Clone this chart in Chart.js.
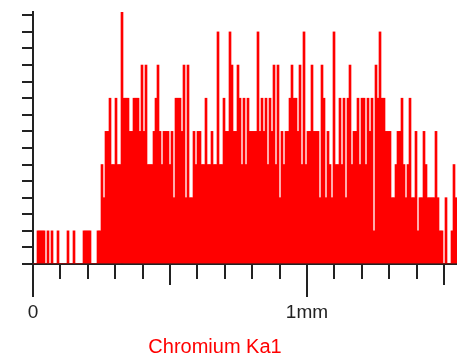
<!DOCTYPE html>
<html>
<head>
<meta charset="utf-8">
<script src="https://cdn.jsdelivr.net/npm/chart.js@4.4.1/dist/chart.umd.min.js"></script>
<style>
  body { margin: 0; background: #ffffff; }
  canvas { display: block; }
</style>
</head>
<body>
<canvas id="scan" width="457" height="356"></canvas>
<script>
// Chromium Ka1 line scan: counts per step along the scan line
const binWidth = 0.0073; // mm per step

const counts = [
    0, 0, 1, 1, 1, 1, 0, 1, 0, 1,
    0, 0, 1, 0, 0, 0, 0, 1, 0, 0,
    1, 0, 0, 0, 0, 1, 1, 1, 1, 0,
    0, 0, 1, 1, 3, 2, 4, 4, 5, 3,
    3, 5, 3, 3, 8, 5, 5, 5, 4, 4,
    5, 5, 5, 4, 6, 4, 6, 3, 3, 3,
    4, 5, 6, 4, 3, 4, 4, 4, 3, 4,
    2, 5, 5, 5, 4, 6, 2, 6, 2, 2,
    4, 3, 4, 4, 3, 3, 5, 3, 3, 4,
    3, 3, 7, 3, 3, 5, 4, 4, 7, 6,
    4, 4, 6, 5, 3, 5, 3, 5, 4, 4,
    4, 4, 7, 4, 5, 4, 5, 3, 5, 4,
    6, 3, 6, 2, 4, 3, 4, 4, 5, 6,
    5, 5, 4, 6, 3, 7, 3, 4, 4, 6,
    4, 4, 4, 2, 6, 5, 2, 4, 3, 2,
    7, 3, 3, 5, 3, 5, 2, 5, 6, 3,
    4, 4, 5, 3, 5, 5, 3, 5, 4, 5,
    1, 6, 5, 7, 5, 5, 4, 4, 4, 2,
    2, 3, 4, 4, 5, 3, 2, 3, 5, 2,
    2, 4, 1, 2, 2, 4, 3, 2, 2, 2,
    2, 4, 2, 1, 1, 0, 2, 0, 0, 1,
    3, 2
];

// x axis ticks every 0.1 mm, only two of them labelled
const xTickValues = [0, 0.1, 0.2, 0.3, 0.4, 0.5, 0.6, 0.7, 0.8, 0.9, 1.0, 1.1, 1.2, 1.3, 1.4, 1.5];
const xTickLabels = ['0', '', '', '', '', '', '', '', '', '', '1mm', '', '', '', '', ''];
const yTickValues = [0, 0.5, 1, 1.5, 2, 2.5, 3, 3.5, 4, 4.5, 5, 5.5, 6, 6.5, 7, 7.5];
const titleText = 'Chromium Ka1';

const axisColor = '#222222';
const barColor = '#ff0000';

// long ticks at whole mm, medium at half mm, short otherwise
const scanDecorations = {
    id: 'scanDecorations',
    afterDraw(chart) {
        const ctx = chart.ctx;
        const xScale = chart.scales.x;
        const base = chart.chartArea.bottom;
        ctx.save();
        ctx.strokeStyle = axisColor;
        ctx.lineWidth = 2;
        xTickValues.forEach((v, i) => {
            const len = i % 10 === 0 ? 33 : (i % 5 === 0 ? 21 : 15);
            const px = Math.round(xScale.getPixelForValue(v));
            ctx.beginPath();
            ctx.moveTo(px, base);
            ctx.lineTo(px, base + len);
            ctx.stroke();
        });
        ctx.fillStyle = barColor;
        ctx.font = '20px "Liberation Sans", Arial, sans-serif';
        ctx.textAlign = 'center';
        ctx.textBaseline = 'middle';
        ctx.fillText(titleText, 215, 347);
        ctx.restore();
    }
};

const ctx = document.getElementById('scan').getContext('2d');

new Chart(ctx, {
    type: 'bar',
    data: {
        datasets: [{
            label: titleText,
            data: counts.map((c, i) => ({ x: (i + 0.5) * binWidth, y: c })),
            backgroundColor: barColor,
            borderWidth: 0,
            barPercentage: 1,
            categoryPercentage: 1
        }]
    },
    options: {
        responsive: false,
        animation: false,
        devicePixelRatio: 1,
        layout: { padding: { top: 12, right: 0, bottom: 0, left: 0 } },
        scales: {
            x: {
                type: 'linear',
                offset: false,
                min: 0,
                max: counts.length * binWidth,
                afterBuildTicks: (scale) => { scale.ticks = xTickValues.map(v => ({ value: v })); },
                afterFit: (scale) => {
                    scale.height = 92;
                    scale.paddingLeft = 0;
                    scale.paddingRight = 0;
                },
                ticks: {
                    autoSkip: false,
                    maxRotation: 0,
                    padding: 37,
                    color: axisColor,
                    font: { family: '"Liberation Sans", Arial, sans-serif', size: 19 },
                    callback: (value, index) => xTickLabels[index]
                },
                grid: { display: true, offset: false, drawOnChartArea: false, drawTicks: false },
                border: { display: true, color: axisColor, width: 2 }
            },
            y: {
                min: 0,
                max: 7.6,
                afterBuildTicks: (scale) => { scale.ticks = yTickValues.map(v => ({ value: v })); },
                afterFit: (scale) => {
                    scale.width = 33;
                    scale.paddingTop = 0;
                    scale.paddingBottom = 0;
                },
                ticks: { display: false },
                grid: { drawOnChartArea: false, drawTicks: true, tickLength: 11, color: axisColor, lineWidth: 2 },
                border: { display: true, color: axisColor, width: 2 }
            }
        },
        plugins: {
            legend: { display: false },
            tooltip: { enabled: false }
        }
    },
    plugins: [scanDecorations]
});
</script>
</body>
</html>
